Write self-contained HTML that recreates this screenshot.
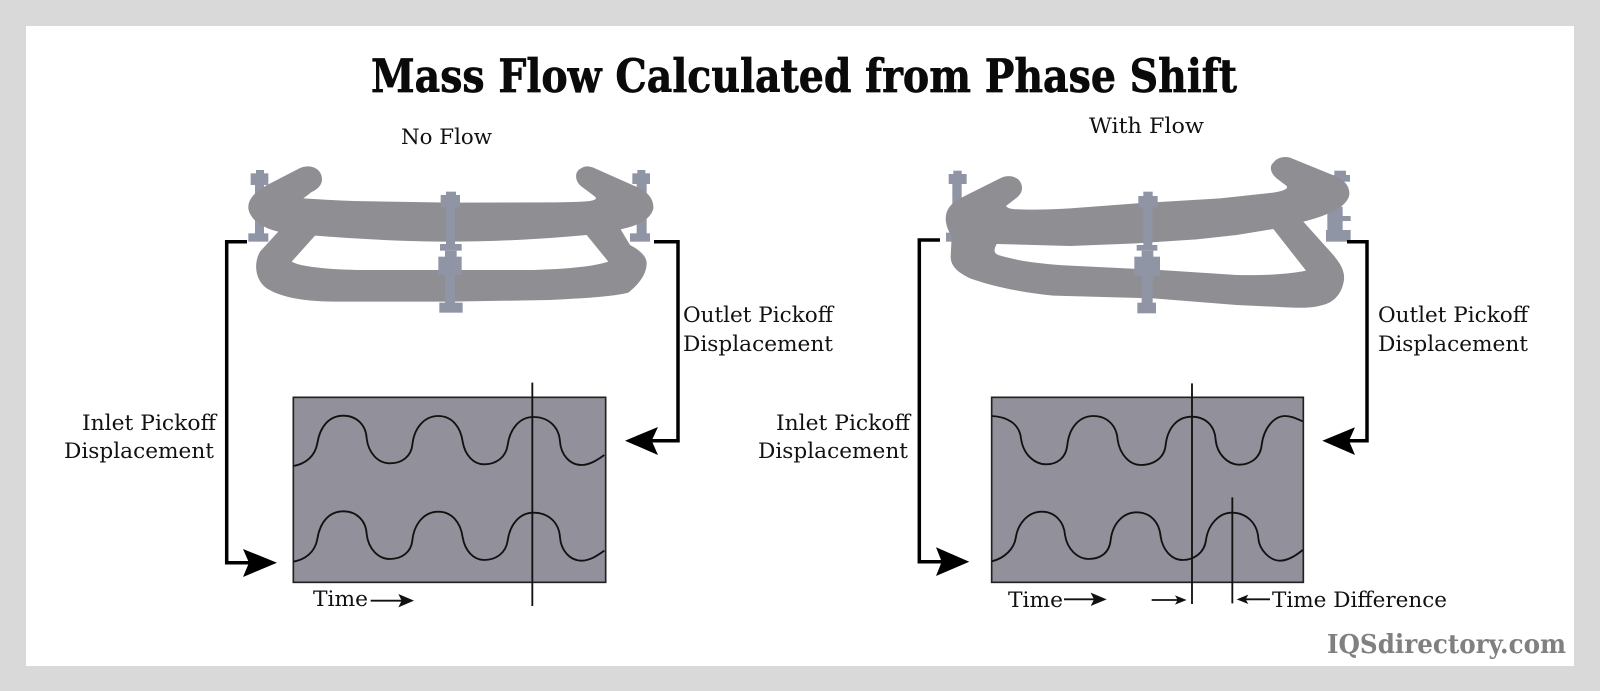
<!DOCTYPE html>
<html><head><meta charset="utf-8"><style>
html,body{margin:0;padding:0;background:#d9d9d9}
svg{display:block}
text{font-family:"DejaVu Serif","Liberation Serif",serif;fill:#111;font-size:21px}
</style></head><body>
<svg width="1600" height="691" viewBox="0 0 1600 691" xmlns="http://www.w3.org/2000/svg">
<rect width="1600" height="691" fill="#d9d9d9"/>
<rect x="26" y="26" width="1548" height="640" fill="#fff"/>
<text x="371" y="92" textLength="866" lengthAdjust="spacingAndGlyphs" style="font-size:46px;font-weight:bold;fill:#0a0a0a;stroke:#0a0a0a;stroke-width:.7">Mass Flow Calculated from Phase Shift</text>
<text x="401" y="144" textLength="91" lengthAdjust="spacingAndGlyphs">No Flow</text>
<text x="1089" y="133" textLength="115" lengthAdjust="spacingAndGlyphs">With Flow</text>

<!-- left device -->
<g transform="translate(200,120) scale(.33333)">
<g fill="#9095a6">
<rect x="168" y="150" width="24" height="12"/><rect x="152" y="160" width="53" height="35"/><rect x="165" y="195" width="27" height="150"/><rect x="145" y="340" width="60" height="25"/>
<rect x="1312" y="150" width="24" height="12"/><rect x="1297" y="160" width="53" height="32"/><rect x="1310" y="192" width="30" height="150"/><rect x="1290" y="340" width="60" height="25"/>
</g>
<path fill="#8f8f93" fill-rule="evenodd" d="M205,193 L298,145 C330,130 366,145 366,178 C366,198 348,210 335,216 L310,235 C360,238 410,241 460,243 L750,248 L1050,247 C1100,247 1140,246 1170,243 C1190,239 1190,235 1185,230 L1145,200 C1122,182 1125,155 1140,147 C1152,138 1165,137 1180,143 L1320,205 C1345,218 1362,240 1360,265 C1352,300 1310,318 1262,328 L1290,375 C1310,385 1340,405 1340,430 C1340,460 1320,490 1285,518 C1240,530 1150,535 1050,540 L750,545 L420,545 C320,545 250,535 200,505 C165,480 160,430 180,395 L235,335 C190,325 150,300 145,265 C143,235 170,212 205,193 Z M345,347 L275,425 C300,440 380,448 470,450 L1000,450 C1100,447 1180,440 1225,425 L1160,345 C1050,355 900,365 750,365 C600,365 450,355 345,347 Z"/>
<g fill="#9095a6">
<rect x="738" y="215" width="30" height="12"/><rect x="722" y="225" width="58" height="37"/><rect x="738" y="262" width="27" height="115"/><rect x="720" y="372" width="65" height="20"/><rect x="735" y="392" width="35" height="20"/><rect x="715" y="410" width="70" height="55"/><rect x="735" y="465" width="30" height="85"/><rect x="718" y="548" width="70" height="30"/>
</g>
</g>

<!-- right device -->
<g transform="translate(920,120) scale(.33333)">
<g fill="#9095a6">
<rect x="100" y="152" width="25" height="12"/><rect x="86" y="162" width="54" height="30"/><rect x="97" y="192" width="28" height="60"/><rect x="78" y="338" width="28" height="27"/>
<rect x="1243" y="152" width="35" height="15"/><rect x="1240" y="165" width="50" height="20"/><rect x="1222" y="260" width="46" height="75"/><rect x="1265" y="288" width="27" height="15"/><rect x="1218" y="330" width="74" height="35"/>
</g>
<path fill="#8f8f93" fill-rule="evenodd" d="M120,235 L240,175 C270,160 304,172 306,202 C307,217 298,228 285,237 L258,258 C265,268 285,268 300,268 C350,270 400,268 450,265 L650,250 L900,235 L1060,218 C1095,212 1105,205 1100,198 L1070,175 C1050,158 1048,138 1060,128 C1072,112 1092,108 1110,113 L1250,170 C1275,182 1290,200 1288,225 C1280,265 1210,290 1150,305 L1240,405 C1265,435 1278,460 1270,490 C1262,525 1240,545 1215,553 C1180,565 1140,564 1100,562 L950,555 L700,535 L400,527 C310,518 220,500 150,475 C115,458 92,440 92,410 L95,350 C80,325 75,305 78,285 C82,262 100,245 120,235 Z M1060,327 L950,345 L830,358 L650,370 L450,378 L230,372 C220,390 222,400 235,405 C300,425 370,432 450,437 L720,450 L950,465 C1040,467 1110,462 1158,452 Z"/>
<g fill="#9095a6">
<rect x="670" y="215" width="28" height="15"/><rect x="655" y="228" width="58" height="34"/><rect x="670" y="262" width="27" height="115"/><rect x="650" y="375" width="62" height="17"/><rect x="665" y="392" width="35" height="20"/><rect x="643" y="410" width="77" height="57"/><rect x="665" y="467" width="33" height="83"/><rect x="652" y="548" width="56" height="32"/>
</g>
</g>

<!-- connectors -->
<g fill="none" stroke="#000" stroke-width="3.5">
<path d="M247,241.7H226.7V562.7H252"/>
<path d="M654,241.7H678V440.7H650"/>
<path d="M940,240H919.3V561.7H944"/>
<path d="M1347,241.7H1367V440.7H1347"/>
</g>
<g fill="#000">
<path d="M277,562.7L243,549L249,562.7L243,577Z"/>
<path d="M625,440.7L658,427L651.7,440.7L658,455Z"/>
<path d="M969.3,561.7L936,547.3L941.7,561.7L936,576Z"/>
<path d="M1322.3,440.7L1355,427.3L1349,440.7L1355,455Z"/>
</g>

<!-- left chart -->
<g transform="translate(210,370) scale(.33333)" fill="none" stroke="#111" stroke-width="5.5">
<rect x="250" y="82" width="937" height="555" fill="#92919b" stroke="#222" stroke-width="5"/>
<path d="M250,288 C285,282 315,260 322,220 C330,170 357,137 400,137 C440,137 468,165 470,205 C475,250 505,280 540,280 C575,280 603,260 607,225 C612,175 642,138 685,138 C725,138 752,170 758,215 C765,255 790,283 822,283 C858,283 888,262 893,225 C900,175 930,141 970,141 C1015,141 1047,170 1050,215 C1053,255 1080,285 1115,285 C1140,285 1165,268 1183,255"/>
<path transform="translate(0,287)" d="M250,288 C285,282 315,260 322,220 C330,170 357,137 400,137 C440,137 468,165 470,205 C475,250 505,280 540,280 C575,280 603,260 607,225 C612,175 642,138 685,138 C725,138 752,170 758,215 C765,255 790,283 822,283 C858,283 888,262 893,225 C900,175 930,141 970,141 C1015,141 1047,170 1050,215 C1053,255 1080,285 1115,285 C1140,285 1165,268 1183,255"/>
<path d="M967,38V708"/>
<path d="M482,692H580"/>
<path d="M612,692L565,672L575,692L565,712Z" fill="#111" stroke="none"/>
</g>

<!-- right chart -->
<g transform="translate(910,370) scale(.33333)" fill="none" stroke="#111" stroke-width="5.5">
<rect x="245" y="82" width="935" height="555" fill="#92919b" stroke="#222" stroke-width="5"/>
<path d="M245,138 C290,140 328,160 333,205 C340,255 375,283 408,283 C440,283 468,265 472,225 C478,170 510,138 550,138 C590,138 620,165 623,210 C630,255 660,285 692,285 C730,285 763,265 767,225 C773,170 805,140 845,140 C885,140 914,165 917,210 C922,255 955,284 988,284 C1020,284 1051,265 1055,225 C1062,170 1095,138 1125,138 C1145,138 1160,146 1178,154"/>
<path d="M245,574 C285,565 312,535 317,505 C323,460 355,425 395,425 C435,425 462,455 465,495 C472,540 505,567 535,567 C570,567 598,550 602,510 C608,460 640,427 680,427 C720,427 748,455 752,500 C758,540 785,570 818,570 C850,570 883,550 888,510 C895,460 930,428 965,428 C1010,428 1042,460 1045,505 C1048,540 1080,572 1110,572 C1135,572 1160,555 1178,540"/>
<path d="M846,40V702M967,382V700"/>
<path d="M462,688H560M725,690H810M1080,688H1000"/>
<g fill="#111" stroke="none">
<path d="M590,688L542,668L552,688L542,708Z"/>
<path d="M830,690L795,676L803,690L795,704Z"/>
<path d="M980,688L1015,674L1007,688L1015,702Z"/>
</g>
</g>

<!-- labels -->
<text x="683" y="322" textLength="150" lengthAdjust="spacingAndGlyphs">Outlet Pickoff</text>
<text x="683" y="351" textLength="150" lengthAdjust="spacingAndGlyphs">Displacement</text>
<text x="82" y="430" textLength="134" lengthAdjust="spacingAndGlyphs">Inlet Pickoff</text>
<text x="64" y="458" textLength="150" lengthAdjust="spacingAndGlyphs">Displacement</text>
<text x="1378" y="322" textLength="150" lengthAdjust="spacingAndGlyphs">Outlet Pickoff</text>
<text x="1378" y="351" textLength="150" lengthAdjust="spacingAndGlyphs">Displacement</text>
<text x="776" y="430" textLength="134" lengthAdjust="spacingAndGlyphs">Inlet Pickoff</text>
<text x="758" y="458" textLength="150" lengthAdjust="spacingAndGlyphs">Displacement</text>
<text x="313" y="606" textLength="55" lengthAdjust="spacingAndGlyphs">Time</text>
<text x="1008" y="607" textLength="55" lengthAdjust="spacingAndGlyphs">Time</text>
<text x="1272" y="607" textLength="175" lengthAdjust="spacingAndGlyphs">Time Difference</text>
<text x="1327" y="653" textLength="239" lengthAdjust="spacingAndGlyphs" style="font-size:26px;font-weight:bold;fill:#808080">IQSdirectory.com</text>
</svg>
</body></html>
